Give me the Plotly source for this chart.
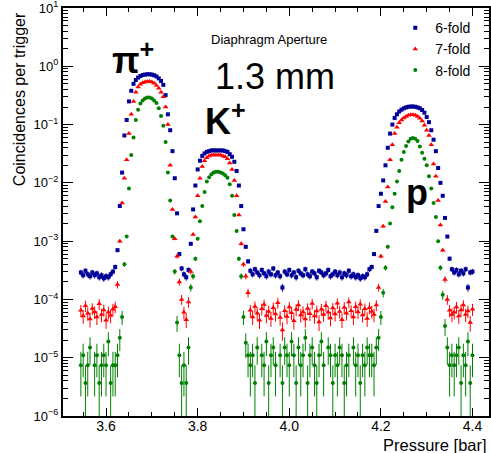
import math
import plotly.graph_objects as go

# ---------------- data ----------------
PRESSURE_BAR = [
    3.545, 3.550, 3.555, 3.560, 3.565, 3.570, 3.575, 3.580, 3.585, 3.590,
    3.595, 3.600, 3.605, 3.610, 3.615,
    3.620, 3.625, 3.630, 3.635, 3.640, 3.645, 3.650, 3.655, 3.660, 3.665,
    3.670, 3.675, 3.680, 3.685, 3.690, 3.695, 3.700, 3.705, 3.710, 3.715,
    3.720, 3.725, 3.730, 3.735, 3.740, 3.745, 3.750, 3.755, 3.760, 3.765,
    3.770, 3.775, 3.780, 3.785, 3.790, 3.795, 3.800, 3.805, 3.810, 3.815,
    3.820, 3.825, 3.830, 3.835, 3.840, 3.845, 3.850, 3.855, 3.860, 3.865,
    3.870, 3.875, 3.880, 3.885, 3.890, 3.895, 3.900, 3.905, 3.910,
    3.915, 3.920, 3.925, 3.930, 3.935, 3.940, 3.945, 3.950, 3.955, 3.960,
    3.965, 3.970, 3.975, 3.980, 3.985, 3.990, 3.995, 4.000, 4.005, 4.010,
    4.015, 4.020, 4.025, 4.030, 4.035, 4.040, 4.045, 4.050, 4.055, 4.060,
    4.065, 4.070, 4.075, 4.080, 4.085, 4.090, 4.095, 4.100, 4.105, 4.110,
    4.115, 4.120, 4.125, 4.130, 4.135, 4.140, 4.145, 4.150, 4.155, 4.160,
    4.165, 4.170, 4.175,
    4.180, 4.185, 4.190, 4.195, 4.200, 4.205, 4.210, 4.215, 4.220, 4.225,
    4.230, 4.235, 4.240, 4.245, 4.250, 4.255, 4.260, 4.265, 4.270, 4.275,
    4.280, 4.285, 4.290, 4.295, 4.300, 4.305, 4.310, 4.315, 4.320, 4.325,
    4.330, 4.335, 4.340, 4.345, 4.350, 4.355,
    4.360, 4.365, 4.370, 4.375, 4.380, 4.385, 4.390, 4.395, 4.400,
]

SIXFOLD = [
    2.9e-4, 2.6e-4, 3.1e-4, 2.7e-4, 2.5e-4, 2.9e-4, 2.6e-4, 2.8e-4, 2.4e-4, 2.6e-4,
    2.3e-4, 2.5e-4, 2.4e-4, 2.7e-4, 3.0e-4,
    3.6e-4, 7e-4, 4e-3, 0.015, 0.065, 0.12, 0.25, 0.38, 0.50, 0.58,
    0.64, 0.68, 0.71, 0.72, 0.73, 0.73, 0.72, 0.70, 0.67, 0.62,
    0.56, 0.48, 0.32, 0.15, 0.08, 0.035, 0.012, 3e-3, 6e-4, 3.4e-4,
    2.7e-4, 2.4e-4, 3.2e-4, 9e-4, 3.5e-3, 9e-3, 0.017, 0.024, 0.029, 0.032,
    0.034, 0.035, 0.036, 0.036, 0.036, 0.036, 0.036, 0.036, 0.035, 0.034,
    0.031, 0.028, 0.023, 0.016, 0.009, 4e-3, 1.6e-3, 8e-4, 4.5e-4,
    3.1e-4, 2.7e-4, 3.3e-4, 2.9e-4, 2.6e-4, 3.2e-4, 2.8e-4, 2.5e-4, 3.0e-4, 2.7e-4,
    3.4e-4, 2.6e-4, 2.9e-4, 2.5e-4, 1.6e-4, 3.0e-4, 2.7e-4, 3.2e-4, 2.6e-4, 2.9e-4,
    2.4e-4, 3.1e-4, 2.8e-4, 2.6e-4, 3.3e-4, 2.7e-4, 2.5e-4, 3.0e-4, 2.8e-4, 2.4e-4,
    3.1e-4, 2.9e-4, 2.6e-4, 2.8e-4, 3.2e-4, 2.5e-4, 2.7e-4, 3.0e-4, 2.6e-4, 2.9e-4,
    2.4e-4, 2.8e-4, 2.6e-4, 3.1e-4, 2.5e-4, 2.7e-4, 2.4e-4, 2.6e-4, 2.3e-4, 2.5e-4,
    2.4e-4, 2.7e-4, 3.3e-4,
    3.6e-4, 6e-4, 1.5e-3, 4e-3, 6.5e-3, 0.011, 0.02, 0.04, 0.07, 0.10,
    0.13, 0.15, 0.168, 0.18, 0.19, 0.197, 0.202, 0.204, 0.204, 0.202,
    0.197, 0.19, 0.178, 0.16, 0.135, 0.11, 0.08, 0.055, 0.035, 0.018,
    0.01, 6e-3, 2.5e-3, 1.2e-3, 5e-4, 3.3e-4,
    2.9e-4, 3.2e-4, 2.7e-4, 3.1e-4, 2.8e-4, 3.3e-4, 1.6e-4, 2.9e-4, 3.0e-4,
]

SEVENFOLD = [
    6.5e-5, 5.2e-5, 7.8e-5, 5.8e-5, 4.6e-5, 7.0e-5, 6.1e-5, 5.0e-5, 8.4e-5, 5.5e-5,
    6.6e-5, 4.4e-5, 6.0e-5, 5.3e-5, 6.8e-5,
    7.5e-5, 1.8e-4, 1e-3, 4.5e-3, 0.012, 0.025, 0.07, 0.15, 0.25, 0.36,
    0.44, 0.49, 0.52, 0.54, 0.55, 0.55, 0.54, 0.51, 0.47, 0.42,
    0.36, 0.30, 0.20, 0.10, 0.02, 3.5e-3, 1.1e-3, 5.5e-4, 2e-4, 1e-4,
    6e-5, 4.5e-5, 9e-5, 3e-4, 1.3e-3, 2.6e-3, 6e-3, 0.012, 0.019, 0.024,
    0.027, 0.029, 0.030, 0.030, 0.030, 0.030, 0.030, 0.029, 0.028, 0.026,
    0.022, 0.017, 0.011, 6e-3, 2.8e-3, 9e-4, 4e-4, 2.5e-4, 1.3e-4,
    6.5e-5, 5.0e-5, 7.6e-5, 5.8e-5, 4.4e-5, 6.9e-5, 8.2e-5, 5.3e-5, 6.2e-5, 4.7e-5,
    7.2e-5, 5.6e-5, 8.8e-5, 4.9e-5, 3.0e-5, 6.4e-5, 5.1e-5, 7.4e-5, 5.9e-5, 4.3e-5,
    6.7e-5, 8.0e-5, 5.4e-5, 6.1e-5, 4.6e-5, 7.0e-5, 5.7e-5, 8.5e-5, 5.2e-5, 6.3e-5,
    4.1e-5, 6.8e-5, 5.5e-5, 7.8e-5, 6.0e-5, 4.8e-5, 7.1e-5, 5.6e-5, 8.6e-5, 6.2e-5,
    4.5e-5, 7.3e-5, 5.8e-5, 9.0e-5, 6.4e-5, 5.0e-5, 7.5e-5, 6.1e-5, 8.3e-5, 5.4e-5,
    6.9e-5, 4.7e-5, 7.2e-5,
    6.2e-5, 5.5e-5, 8e-5, 1.6e-4, 5.5e-4, 1.8e-3, 4.8e-3, 8.5e-3, 0.025, 0.045,
    0.07, 0.09, 0.107, 0.12, 0.13, 0.138, 0.144, 0.147, 0.147, 0.144,
    0.138, 0.128, 0.115, 0.097, 0.08, 0.065, 0.045, 0.021, 0.013, 5e-3,
    1.9e-3, 7e-4, 2.2e-4, 1e-4, 6.5e-5, 5.5e-5,
    6.0e-5, 7.4e-5, 5.2e-5, 6.6e-5, 8.0e-5, 5.5e-5, 6.3e-5, 4.0e-5, 6.8e-5,
]

EIGHTFOLD = [
    7.4e-6, 1.1e-5, 3.7e-6, 7.4e-6, 1.5e-5, None, 7.4e-6, 1.1e-5, 3.7e-6, 7.4e-6,
    1.1e-5, 7.4e-6, 1.9e-5, 3.7e-6, 7.4e-6,
    7.4e-6, 1.1e-5, 2.2e-5, 5e-5, 4e-4, 1.2e-3, 8e-3, 0.03, 0.06, 0.12,
    0.18, 0.23, 0.26, 0.28, 0.29, 0.29, 0.28, 0.26, 0.235, 0.19,
    0.14, 0.095, 0.05, 0.015, 5e-3, 1.2e-3, 3e-4, 4e-5, 1.1e-5, 3.7e-6,
    7.4e-6, 3.7e-6, 1.5e-5, 1.6e-4, 2.5e-4, 5e-4, 1.1e-3, 2.2e-3, 4e-3, 7e-3,
    0.0105, 0.0125, 0.014, 0.015, 0.0155, 0.0155, 0.015, 0.0145, 0.0135, 0.0122,
    9.5e-3, 6e-3, 2.8e-3, 1.5e-3, 5e-4, 2.5e-4, 5e-5, 1.8e-5, 1.1e-5,
    7.4e-6, 1.1e-5, 3.7e-6, 1.5e-5, None, 1.1e-5, 7.4e-6, 1.9e-5, 3.7e-6, 1.1e-5,
    1.5e-5, 7.4e-6, None, 1.1e-5, 3.7e-6, 1.5e-5, 1.1e-5, 7.4e-6, 1.9e-5, 1.1e-5,
    3.7e-6, 1.5e-5, 7.4e-6, 1.1e-5, 2.2e-5, 3.7e-6, 1.1e-5, 1.5e-5, 7.4e-6, 3.7e-6,
    1.1e-5, 1.9e-5, 7.4e-6, None, 1.5e-5, 1.1e-5, 3.7e-6, 1.1e-5, 7.4e-6, 1.5e-5,
    1.1e-5, 3.7e-6, 7.4e-6, 1.1e-5, None, 1.5e-5, 7.4e-6, 1.1e-5, 3.7e-6, 1.1e-5,
    7.4e-6, 1.5e-5, 1.1e-5,
    1.1e-5, 7.4e-6, 1.5e-5, 2.2e-5, 5e-5, 1.3e-4, 3.5e-4, 8e-4, 2e-3, 3.8e-3,
    6.5e-3, 0.0105, 0.016, 0.025, 0.034, 0.043, 0.051, 0.057, 0.059, 0.057,
    0.052, 0.042, 0.033, 0.026, 0.02, 0.013, 8e-3, 4.5e-3, 2.6e-3, 1e-3,
    3.5e-4, 1.2e-4, 3.5e-5, 1.5e-5, 7.4e-6, 1.1e-5,
    7.4e-6, 1.1e-5, 1.5e-5, 3.7e-6, 1.1e-5, 7.4e-6, 1.9e-5, 3.7e-6, 1.1e-5,
]

SERIES_NAMES = ["6-fold", "7-fold", "8-fold"]
X_TICKS = [3.6, 3.8, 4.0, 4.2, 4.4]
Y_TICK_EXPONENTS = [1, 0, -1, -2, -3, -4, -5, -6]

# single-count level per trigger (Poisson unit for error bars)
UNIT = 3.7e-6

FONT = "Liberation Sans, Arial, Helvetica, sans-serif"
COLORS = ["#000099", "#ff0000", "#008000"]
SYMBOLS = ["square", "triangle-up", "circle"]
SIZES = [4, 5, 4]


def errors(vals):
    up, dn = [], []
    for v in vals:
        if v is None:
            up.append(None)
            dn.append(None)
        else:
            e = math.sqrt(v * UNIT)
            up.append(e)
            dn.append(min(e, 0.9999 * v))
    return up, dn


def power_label(e):
    s = str(e) if e >= 0 else "\u2212" + str(-e)
    return "10<sup>" + s + "</sup>"


fig = go.Figure()
for name, vals, col, sym, sz in zip(SERIES_NAMES, [SIXFOLD, SEVENFOLD, EIGHTFOLD],
                                    COLORS, SYMBOLS, SIZES):
    up, dn = errors(vals)
    fig.add_trace(go.Scatter(
        x=PRESSURE_BAR, y=vals, name=name, mode="markers",
        marker=dict(symbol=sym, size=sz, color=col, line=dict(width=0)),
        error_y=dict(type="data", array=up, arrayminus=dn, symmetric=False,
                     color=col, thickness=1, width=0),
        error_x=dict(type="constant", value=0.0025, color=col, thickness=1, width=0),
    ))

axis_common = dict(
    showline=True, linecolor="black", linewidth=2, mirror="ticks",
    ticks="inside", tickcolor="black", showgrid=False, zeroline=False,
    automargin=False, ticklabeloverflow="allow",
)

fig.update_xaxes(
    range=[3.506, 4.436], tickvals=X_TICKS, ticktext=[f"{v:.1f}" for v in X_TICKS],
    ticklen=8, tickwidth=1, ticklabelstandoff=-4,
    tickfont=dict(family=FONT, size=14, color="black"),
    minor=dict(ticks="inside", dtick=0.05, ticklen=4, tickcolor="black", tick0=3.5),
    **axis_common,
)
fig.update_yaxes(
    type="log", range=[-6, 1], tickvals=[10.0 ** e for e in Y_TICK_EXPONENTS],
    ticktext=[power_label(e) for e in Y_TICK_EXPONENTS],
    ticklen=10, tickwidth=1,
    tickfont=dict(family=FONT, size=13, color="black"),
    minor=dict(ticks="inside", dtick="D1", ticklen=5, tickcolor="black"),
    **axis_common,
)

annotations = [
    dict(text="Coincidences per trigger", x=-0.103, y=0.995, xref="paper", yref="paper",
         xanchor="center", yanchor="top", textangle=-90, showarrow=False,
         font=dict(family=FONT, size=16, color="black")),
    dict(text="Pressure [bar]", x=1.0, y=-0.045, xref="paper", yref="paper",
         xanchor="right", yanchor="top", showarrow=False,
         font=dict(family=FONT, size=16.5, color="black")),
    dict(text="Diaphragm Aperture", x=0.343, y=0.900, xref="paper", yref="paper",
         xanchor="left", yanchor="bottom", showarrow=False,
         font=dict(family=FONT, size=13, color="black")),
    dict(text="1.3 mm", x=0.352, y=0.778, xref="paper", yref="paper",
         xanchor="left", yanchor="bottom", showarrow=False,
         font=dict(family=FONT, size=36, color="black")),
    dict(text="<b>π<sup>+</sup></b>", x=0.110, y=0.816, xref="paper", yref="paper",
         xanchor="left", yanchor="bottom", showarrow=False,
         font=dict(family=FONT, size=36, color="black")),
    dict(text="<b>K<sup>+</sup></b>", x=0.329, y=0.666, xref="paper", yref="paper",
         xanchor="left", yanchor="bottom", showarrow=False,
         font=dict(family=FONT, size=36, color="black")),
    dict(text="<b>p</b>", x=0.801, y=0.493, xref="paper", yref="paper",
         xanchor="left", yanchor="bottom", showarrow=False,
         font=dict(family=FONT, size=36, color="black")),
]

fig.update_layout(
    width=491, height=453,
    margin=dict(l=63, r=2, t=8, b=37, autoexpand=False),
    paper_bgcolor="white", plot_bgcolor="white",
    font=dict(family=FONT, color="black"),
    showlegend=True,
    legend=dict(x=0.780, y=0.990, xanchor="left", yanchor="top",
                bgcolor="rgba(0,0,0,0)", borderwidth=0,
                font=dict(family=FONT, size=14, color="black"),
                tracegroupgap=0, itemsizing="trace"),
    annotations=annotations,
)

fig.write_html(
    "out.html",
    config={"displayModeBar": False},
    post_script="document.body.style.margin='0';document.body.style.overflow='hidden';",
)
